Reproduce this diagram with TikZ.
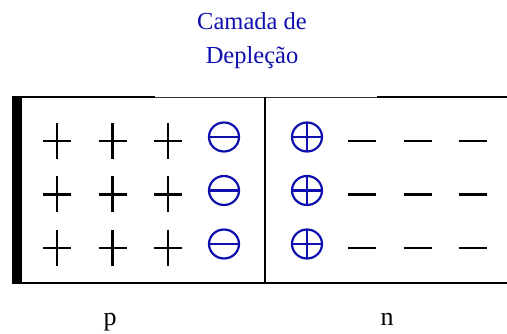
\documentclass[tikz,border=0pt]{standalone}
\usepackage{fontspec}
\setmainfont{Liberation Serif}
\usepackage{xcolor}
\usepackage{tikz}
\usetikzlibrary{positioning, calc}

\definecolor{ionblue}{RGB}{15,15,175}

\begin{document}
\begin{tikzpicture}[
    x=1pt, y=-1pt,
    wall/.style={line width=1.8pt, black},
    carrier/.style={line width=2.4pt, black},
    ion/.style={line width=2.2pt, ionblue},
    headtext/.style={font=\fontsize{24.5}{34}\selectfont, color=ionblue, align=center},
    sidetext/.style={font=\fontsize{26}{30}\selectfont, anchor=base}
  ]
  \useasboundingbox (0,0) rectangle (507,334);

  % Junction block
  \fill[black] (12,96) rectangle (22,284);
  \draw[wall] (12,97) -- (155,97);
  \draw[wall, line width=1.3pt, black!80] (155,97.3) -- (377,97.3);
  \draw[wall] (377,97) -- (507,97);
  \draw[wall] (12,283) -- (507,283);
  \draw[wall] (265,97) -- (265,283);

  % p side: holes and negative ions
  \foreach \y/\yc in {141/137, 194.5/190.5, 248/244} {
    \foreach \x in {57, 112.5, 168}
      \draw[carrier] (\x-14,\y) -- (\x+14,\y) (\x,\y-18) -- (\x,\y+18);
    \draw[ion] (224,\yc) circle[x radius=15, y radius=14.5];
    \draw[ion] (209,\yc) -- (239,\yc);
  }

  % n side: positive ions and electrons
  \foreach \y/\yc in {141/137, 194.5/190.5, 248/244} {
    \draw[ion] (307,\yc) circle[x radius=15, y radius=14.5];
    \draw[ion] (292,\yc) -- (322,\yc) (307,\yc-14.5) -- (307,\yc+14.5);
    \foreach \x in {362, 417.5, 472.5}
      \draw[carrier] (\x-14,\y) -- (\x+14,\y);
  }

  % Labels
  \node[headtext] (layer) at (252,41) {Camada de\\Depleção};
  \node[sidetext] (plabel) at (110,326) {p};
  \node[sidetext] (nlabel) at (387,326) {n};
\end{tikzpicture}
\end{document}
